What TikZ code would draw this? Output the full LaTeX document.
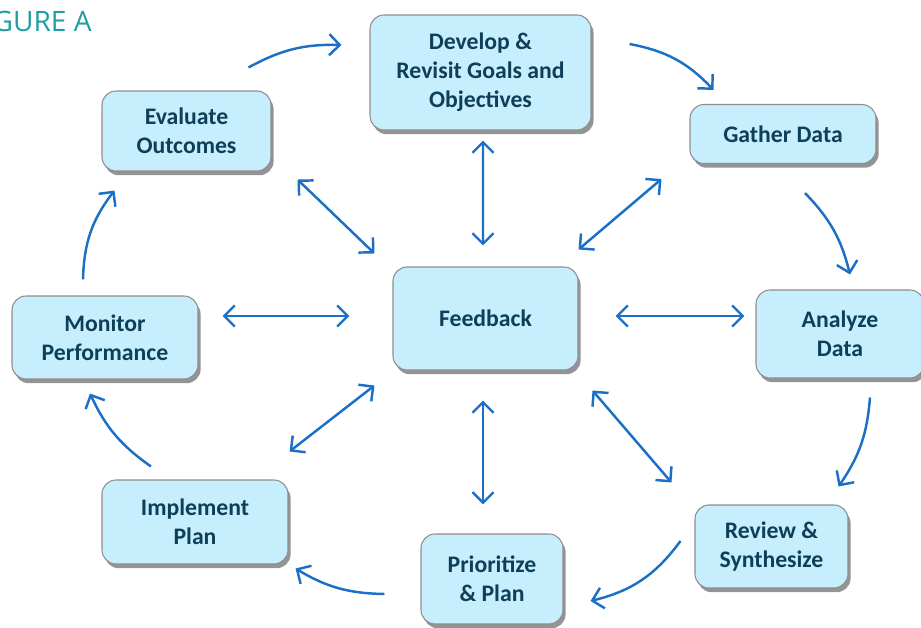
\documentclass[tikz,border=0pt]{standalone}
\usepackage{fontspec}
\setmainfont{Carlito}
\newfontfamily\titlefont{Open Sans}
\usetikzlibrary{arrows.meta,shadows}
\definecolor{boxfill}{HTML}{C6EEFC}
\definecolor{boxline}{HTML}{8E8E8E}
\definecolor{boxtext}{HTML}{0E3F58}
\definecolor{arrowblue}{HTML}{1C6FC6}
\definecolor{titleteal}{HTML}{1E9EA0}
\tikzset{
	stage/.style={draw=boxline, line width=0.6pt, fill=boxfill, rounded corners=8pt, align=center, text=boxtext, font=\fontsize{13.5}{16.5}\selectfont\bfseries, drop shadow={shadow xshift=1.5pt, shadow yshift=-2.4pt, fill=black!42, opacity=1}},
	cyc/.style={arrowblue, line width=1.4pt, -{Straight Barb[length=6pt,width=12pt]}},
	dbl/.style={arrowblue, line width=1.4pt, {Straight Barb[length=6pt,width=12pt]}-{Straight Barb[length=6pt,width=12pt]}}
}

\begin{document}
\begin{tikzpicture}[x=0.02cm, y=-0.02cm]
	\useasboundingbox (0,0) rectangle (921,628);
	\node[anchor=base east, inner sep=0pt, text=titleteal, font=\titlefont\fontsize{16}{18}\selectfont] (fig) at (92,32) {FIGURE A};
	\node[stage, minimum width=4.42cm, minimum height=2.30cm] (dev) at (480.5,72.5) {Develop \&\\Revisit Goals and\\Objectives};
	\node[stage, minimum width=3.38cm, minimum height=1.60cm] (eva) at (186.5,131) {Evaluate\\Outcomes};
	\node[stage, minimum width=3.72cm, minimum height=1.18cm] (gat) at (783,134) {Gather Data};
	\node[stage, minimum width=3.70cm, minimum height=2.06cm] (fb) at (485.5,318.5) {Feedback};
	\node[stage, minimum width=3.72cm, minimum height=1.66cm] (mon) at (105,337.5) {Monitor\\Performance};
	\node[stage, minimum width=3.36cm, minimum height=1.76cm] (ana) at (840,334) {Analyze\\Data};
	\node[stage, minimum width=3.72cm, minimum height=1.68cm] (imp) at (195,522) {Implement\\Plan};
	\node[stage, minimum width=2.84cm, minimum height=1.80cm] (pri) at (492,579) {Prioritize\\\& Plan};
	\node[stage, minimum width=3.06cm, minimum height=1.66cm] (rev) at (771.5,546.5) {Review \&\\Synthesize};

	\draw[cyc] ([shift={(-23,-23)}]eva.north east) to[bend left=15] ([shift={(-28,-27.5)}]dev.west);
	\draw[cyc] ([shift={(38,-28.5)}]dev.east) to[bend left=18] ([shift={(24,-14)}]gat.north west);
	\draw[cyc] ([shift={(22,29)}]gat.south) to[bend left=15] ([shift={(10,-15)}]ana.north);
	\draw[cyc] ([shift={(30,19)}]ana.south) to[bend left=15] ([shift={(-10,-18)}]rev.north east);
	\draw[cyc] ([shift={(-14,-5.5)}]rev.west) to[bend left=20] ([shift={(27,22)}]pri.east);
	\draw[cyc] ([shift={(-36,15)}]pri.west) to[bend left=15] ([shift={(7,4)}]imp.south east);
	\draw[cyc] ([shift={(-44,-13)}]imp.north) to[bend left=15] ([shift={(-15,14)}]mon.south);
	\draw[cyc] ([shift={(-22,-16)}]mon.north) to[bend left=18] ([shift={(13,19)}]eva.south west);

	\draw[dbl] ([shift={(-2.5,-21)}]fb.north) -- ([shift={(2.5,10)}]dev.south);
	\draw[dbl] ([shift={(0,-17)}]fb.north east) -- ([shift={(-28,15)}]gat.south west);
	\draw[dbl] ([shift={(37,-2.5)}]fb.east) -- ([shift={(-11,-18)}]ana.west);
	\draw[dbl] ([shift={(14,20)}]fb.south east) -- ([shift={(-23,-22)}]rev.north west);
	\draw[dbl] ([shift={(-2.5,30)}]fb.south) -- ([shift={(-9,-29)}]pri.north);
	\draw[dbl] ([shift={(-18,15)}]fb.south west) -- ([shift={(1,-28)}]imp.north east);
	\draw[dbl] ([shift={(-43,-2.5)}]fb.west) -- ([shift={(24,-21.5)}]mon.east);
	\draw[dbl] ([shift={(-18,-13)}]fb.north west) -- ([shift={(26,8)}]eva.south east);
\end{tikzpicture}
\end{document}
